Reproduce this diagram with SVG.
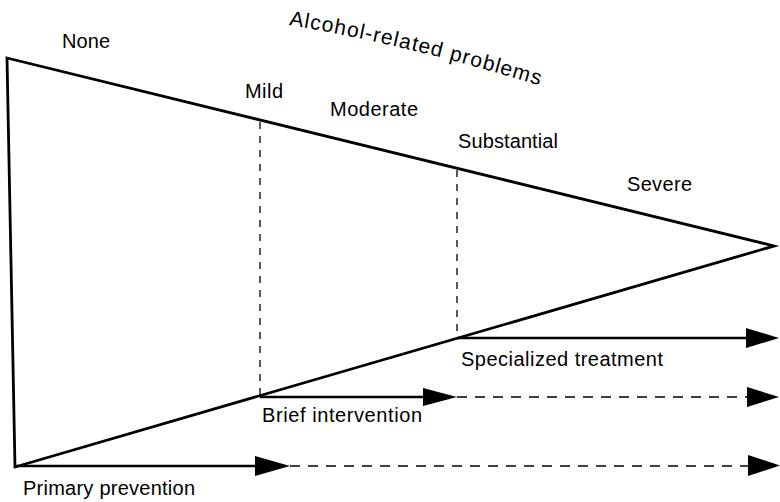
<svg xmlns="http://www.w3.org/2000/svg" width="780" height="502" viewBox="0 0 780 502">
<style>
.lbl{font-family:"Liberation Sans",Arial,Helvetica,sans-serif;font-size:20px;fill:#000}
.ttl{font-family:"Liberation Sans",Arial,Helvetica,sans-serif;font-size:21px;fill:#000}
.edge{fill:none;stroke:#000;stroke-width:2.8;stroke-linejoin:miter}
.vdash{fill:none;stroke:#000;stroke-width:1.3;stroke-dasharray:7 7}
.solid{fill:none;stroke:#000;stroke-width:2.5}
.dash{fill:none;stroke:#000;stroke-width:1.6;stroke-dasharray:10 8}
.head{fill:#000;stroke:none}
</style>
<defs>
<path id="arc" d="M 289 25 Q 410 45 551 89"/>
</defs>
<rect width="780" height="502" fill="#fff"/>
<g id="triangle">
<path class="edge" d="M 7 58 L 774 246 L 15 467 Z"/>
</g>
<g id="title">
<text class="ttl" textLength="258" lengthAdjust="spacing"><textPath href="#arc">Alcohol-related problems</textPath></text>
</g>
<g id="level-labels">
<text class="lbl" x="62" y="48" textLength="48" lengthAdjust="spacing">None</text>
<text class="lbl" x="245" y="98" textLength="38" lengthAdjust="spacing">Mild</text>
<text class="lbl" x="330" y="116" textLength="88" lengthAdjust="spacing">Moderate</text>
<text class="lbl" x="458" y="148" textLength="100" lengthAdjust="spacing">Substantial</text>
<text class="lbl" x="627" y="191" textLength="65" lengthAdjust="spacing">Severe</text>
</g>
<g id="node-specialized">
<text class="lbl" x="461" y="366" textLength="202" lengthAdjust="spacing">Specialized treatment</text>
</g>
<g id="node-brief">
<text class="lbl" x="262" y="422" textLength="160" lengthAdjust="spacing">Brief intervention</text>
</g>
<g id="node-primary">
<text class="lbl" x="23" y="495" textLength="172" lengthAdjust="spacing">Primary prevention</text>
</g>
<g id="connectors">
<line class="vdash" x1="260" y1="122" x2="260" y2="395"/>
<line class="vdash" x1="457" y1="170" x2="457" y2="337"/>
<line class="solid" x1="457" y1="338" x2="748" y2="338"/>
<polygon class="head" points="746,328 779,338 746,348"/>
<line class="solid" x1="260" y1="397" x2="425" y2="397"/>
<polygon class="head" points="423,388 457,397 423,406"/>
<line class="dash" x1="457" y1="397" x2="748" y2="397"/>
<polygon class="head" points="747,387 779,397 747,407"/>
<line class="solid" x1="15" y1="466" x2="257" y2="466"/>
<polygon class="head" points="255,456 290,466 255,476"/>
<line class="dash" x1="290" y1="466" x2="748" y2="466"/>
<polygon class="head" points="748,455 780,465.5 748,476"/>
</g>
</svg>
